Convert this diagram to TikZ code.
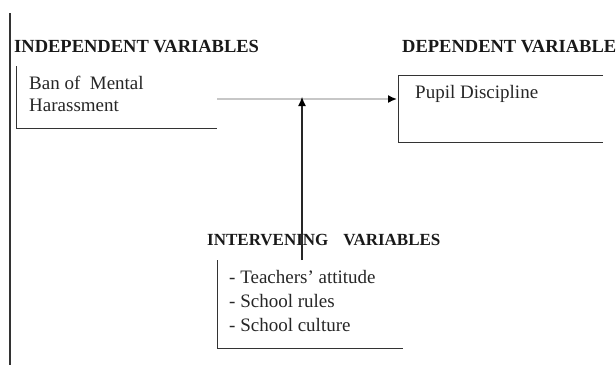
\documentclass[tikz,border=0pt]{standalone}
\usepackage{fontspec}
\setmainfont{Liberation Serif}
\usetikzlibrary{arrows.meta}
\begin{document}
\begin{tikzpicture}[x=1pt,y=-1pt,
  title/.style={anchor=base west,inner sep=0pt,font=\fontsize{18.5}{22}\selectfont\bfseries,text=black!90},
  body/.style={anchor=base west,inner sep=0pt,font=\fontsize{19}{22}\selectfont,text=black!85},
  edge/.style={line width=1pt,draw=black!80},
  tip/.style={-{Latex[length=9pt,width=8pt,color=black]}}]
\useasboundingbox (0,0) rectangle (616,365);
% left margin line
\coordinate (mtop) at (10,13);
\coordinate (mbot) at (10,365);
\draw[edge,line width=1.3pt] (mtop) -- (mbot);
% titles
\node[title] (tind) at (14,52) {INDEPENDENT VARIABLES};
\node[title] (tdep) at (402,52) {DEPENDENT VARIABLE};
\node[title,font=\fontsize{17}{22}\selectfont\bfseries] (tint) at (207,245) {INTERVENING\hspace{15pt}VARIABLES};
% independent box (left and bottom edges)
\coordinate (ia) at (16,66);
\coordinate (ib) at (16,128);
\coordinate (ic) at (217,128);
\draw[edge] (ia) -- (ib) -- (ic);
\node[body] (ban) at (29,89) {Ban of\ \ Mental};
\node[body] (har) at (29,111) {Harassment};
% dependent box (top, left, bottom edges)
\coordinate (da) at (603,75);
\coordinate (db) at (398,75);
\coordinate (dc) at (398,142);
\coordinate (dd) at (603,142);
\draw[edge] (da) -- (db) -- (dc) -- (dd);
\node[body] (pup) at (415,98) {Pupil Discipline};
% intervening box (left and bottom edges)
\coordinate (va) at (217,260);
\coordinate (vb) at (217,348);
\coordinate (vc) at (403,348);
\draw[edge] (va) -- (vb) -- (vc);
\node[body] (v1) at (229,283) {- Teachers' attitude};
\node[body] (v2) at (229,307) {- School rules};
\node[body] (v3) at (229,331) {- School culture};
% connectors
\coordinate (hs) at (217,99);
\coordinate (he) at (397,99);
\draw[tip,draw=black!22,line width=1.6pt] (hs) -- (he);
\coordinate (vs) at (302,260);
\coordinate (ve) at (302,97);
\draw[tip,draw=black!85,line width=1.1pt] (vs) -- (ve);
\end{tikzpicture}
\end{document}
